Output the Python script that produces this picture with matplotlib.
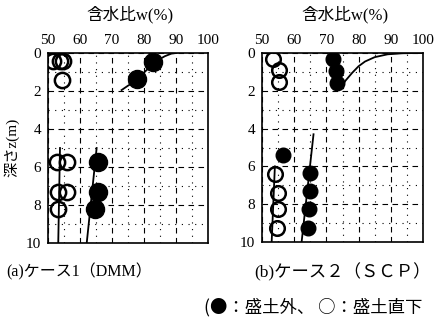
import matplotlib
matplotlib.use('Agg')
import matplotlib.pyplot as plt

FAM = ['Liberation Serif', 'Noto Sans CJK JP']
plt.rcParams['font.family'] = FAM

# case 1 (DMM): filled = outside embankment, open = directly under embankment
c1_out_w = [82.9, 77.7, 65.7, 65.7, 64.7]
c1_out_z = [0.45, 1.35, 5.75, 7.3, 8.2]
c1_in_w = [51.6, 53.6, 54.8, 54.3, 52.7, 55.8, 53.2, 55.8, 53.2]
c1_in_z = [0.4, 0.4, 0.4, 1.4, 5.75, 5.75, 7.3, 7.3, 8.2]
c1_curve_w = [73.0, 75.0, 77.2, 79.0, 80.8, 82.6, 84.4, 86.5, 88.6, 90.2]
c1_curve_z = [1.95, 1.72, 1.5, 1.2, 0.9, 0.62, 0.37, 0.17, 0.03, 0.0]
c1_inline_w = [53.75, 53.2]
c1_inline_z = [5.0, 10.0]
c1_outline_w = [65.2, 62.1]
c1_outline_z = [5.0, 10.0]

# case 2 (SCP)
c2_out_w = [72.0, 73.0, 73.3, 56.6, 64.9, 64.9, 64.7, 64.4]
c2_out_z = [0.3, 0.95, 1.6, 5.4, 6.35, 7.3, 8.25, 9.25]
c2_in_w = [53.5, 55.4, 55.4, 54.0, 55.1, 55.1, 54.6]
c2_in_z = [0.33, 0.9, 1.55, 6.4, 7.4, 8.25, 9.25]
c2_curve_w = [74.5, 76.0, 78.0, 80.0, 82.0, 85.0, 89.0, 94.0, 100.0]
c2_curve_z = [1.8, 1.45, 1.05, 0.7, 0.45, 0.22, 0.07, 0.01, 0.0]
c2_inline_w = [54.0, 53.0]
c2_inline_z = [6.0, 10.0]
c2_outline_w = [66.0, 62.3]
c2_outline_z = [4.3, 10.0]

xticks = [50, 60, 70, 80, 90, 100]
yticks = [0, 2, 4, 6, 8, 10]


def setup(ax):
    ax.set_xlim(50, 100)
    ax.set_ylim(10, 0)
    ax.xaxis.tick_top()
    ax.set_xticks(xticks)
    ax.set_yticks(yticks)
    ax.set_xticks(range(55, 100, 10), minor=True)
    ax.set_yticks(range(1, 10, 2), minor=True)
    ax.tick_params(which='both', length=0, labelsize=11)
    ax.tick_params(axis='x', pad=4)
    ax.tick_params(axis='y', pad=5)
    ax.grid(which='major', color='k', lw=0.8, ls=(0, (5, 4)))
    ax.grid(which='minor', color='k', lw=0.8, ls=(0, (1, 5)))
    ax.set_axisbelow(True)
    for s in ax.spines.values():
        s.set_linewidth(1.2)


def draw(ax, out_w, out_z, in_w, in_z, cw, cz, iw, iz, ow, oz, ms_in, ms_out):
    ax.plot(cw, cz, color='k', lw=1.3)
    ax.plot(iw, iz, color='k', lw=1.3)
    ax.plot(ow, oz, color='k', lw=1.3)
    ax.plot(in_w, in_z, 'o', ms=ms_in, mfc='none', mec='k', mew=1.8)
    ax.plot(out_w, out_z, 'o', ms=ms_out, mfc='k', mec='k')


fig = plt.figure(figsize=(4.37, 3.23), dpi=100)
ax1 = fig.add_axes([48 / 437, 80 / 323, 160 / 437, 190 / 323])
ax2 = fig.add_axes([262 / 437, 81 / 323, 161 / 437, 189 / 323])
setup(ax1)
setup(ax2)
draw(ax1, c1_out_w, c1_out_z, c1_in_w, c1_in_z, c1_curve_w, c1_curve_z,
     c1_inline_w, c1_inline_z, c1_outline_w, c1_outline_z, 11, 13)
draw(ax2, c2_out_w, c2_out_z, c2_in_w, c2_in_z, c2_curve_w, c2_curve_z,
     c2_inline_w, c2_inline_z, c2_outline_w, c2_outline_z, 10.5, 10.5)

fig.text(130 / 437, 1 - 15 / 323, '含水比w(%)', ha='center', va='center', fontsize=12)
fig.text(345 / 437, 1 - 15 / 323, '含水比w(%)', ha='center', va='center', fontsize=12)
fig.text(12 / 437, 1 - 147 / 323, '深さz(m)', ha='center', va='center',
         rotation=90, fontsize=11)
fig.text(6 / 437, 1 - 272 / 323, '(a)ケース1（DMM）', ha='left', va='center', fontsize=11.5)
fig.text(254 / 437, 1 - 272 / 323, '(b)ケース２（ＳＣＰ）', ha='left', va='center', fontsize=12.5)
fig.text(204 / 437, 1 - 307 / 323, '(●：盛土外、 ○：盛土直下', ha='left', va='center',
         fontsize=12.5, family=['Noto Sans CJK JP', 'DejaVu Sans'])

fig.savefig('out.png', dpi=100)
